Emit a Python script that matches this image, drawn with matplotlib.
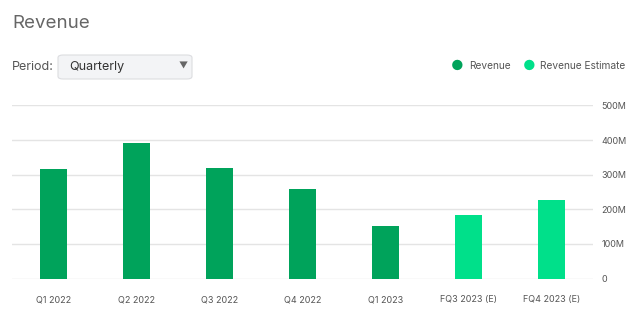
import matplotlib
matplotlib.use('Agg')
import matplotlib.pyplot as plt
from matplotlib.patches import FancyBboxPatch

plt.rcParams['font.family'] = ['Inter', 'DejaVu Sans']

periods = ['Q1 2022', 'Q2 2022', 'Q3 2022', 'Q4 2022', 'Q1 2023', 'FQ3 2023 (E)', 'FQ4 2023 (E)']
revenue = [316, 392, 319, 260, 152, 183, 228]   # millions
is_estimate = [False, False, False, False, False, True, True]
y_ticks = [0, 100, 200, 300, 400, 500]
y_labels = ['0', '100M', '200M', '300M', '400M', '500M']

c_rev = '#00a35b'
c_est = '#00e08a'
c_text = '#555555'

fig = plt.figure(figsize=(6.4, 3.26), dpi=100)
ax = fig.add_axes([0.019, 0.1457, 0.908, 0.5307])

colors = [c_est if e else c_rev for e in is_estimate]
ax.bar(range(len(periods)), revenue, width=0.33, color=colors, zorder=3)

ax.set_xlim(-0.5, len(periods) - 0.5)
ax.set_ylim(0, 500)
ax.set_yticks(y_ticks)
ax.set_yticklabels(y_labels)
ax.yaxis.tick_right()
ax.set_xticks(range(len(periods)))
ax.set_xticklabels(periods)
ax.tick_params(axis='both', length=0, labelsize=6.5, labelcolor=c_text)
ax.tick_params(axis='x', pad=12)
ax.tick_params(axis='y', pad=6)
for lab in ax.get_yticklabels():
    lab.set_horizontalalignment('left')
for y in y_ticks:
    ax.axhline(y, color='#e4e4e4', linewidth=1, zorder=1)
for s in ax.spines.values():
    s.set_visible(False)

# header: title, period selector, legend
fig.text(12/640, 1 - 24/326, 'Revenue', fontsize=13.5, color='#666666', va='center', ha='left')
fig.text(12/640, 1 - 67/326, 'Period:', fontsize=9, color=c_text, va='center', ha='left')
box = FancyBboxPatch((58/640, 1 - 79/326), 134/640, 24/326,
                     boxstyle='round,pad=0,rounding_size=0.008',
                     transform=fig.transFigure, facecolor='#f3f4f6',
                     edgecolor='#dcdde0', linewidth=0.8)
fig.patches.append(box)
fig.text(69/640, 1 - 67/326, 'Quarterly', fontsize=9, color='#333333', va='center', ha='left')
fig.text(183/640, 1 - 66/326, '\u25bc', fontsize=6.5, color='#666666', va='center', ha='center')

fig.text(457/640, 1 - 66/326, '\u25cf', fontsize=10, color=c_rev, va='center', ha='center')
fig.text(469/640, 1 - 66/326, 'Revenue', fontsize=7.3, color=c_text, va='center', ha='left')
fig.text(529/640, 1 - 66/326, '\u25cf', fontsize=10, color=c_est, va='center', ha='center')
fig.text(540/640, 1 - 66/326, 'Revenue Estimate', fontsize=7.3, color=c_text, va='center', ha='left')

plt.savefig('out.png', dpi=100)
